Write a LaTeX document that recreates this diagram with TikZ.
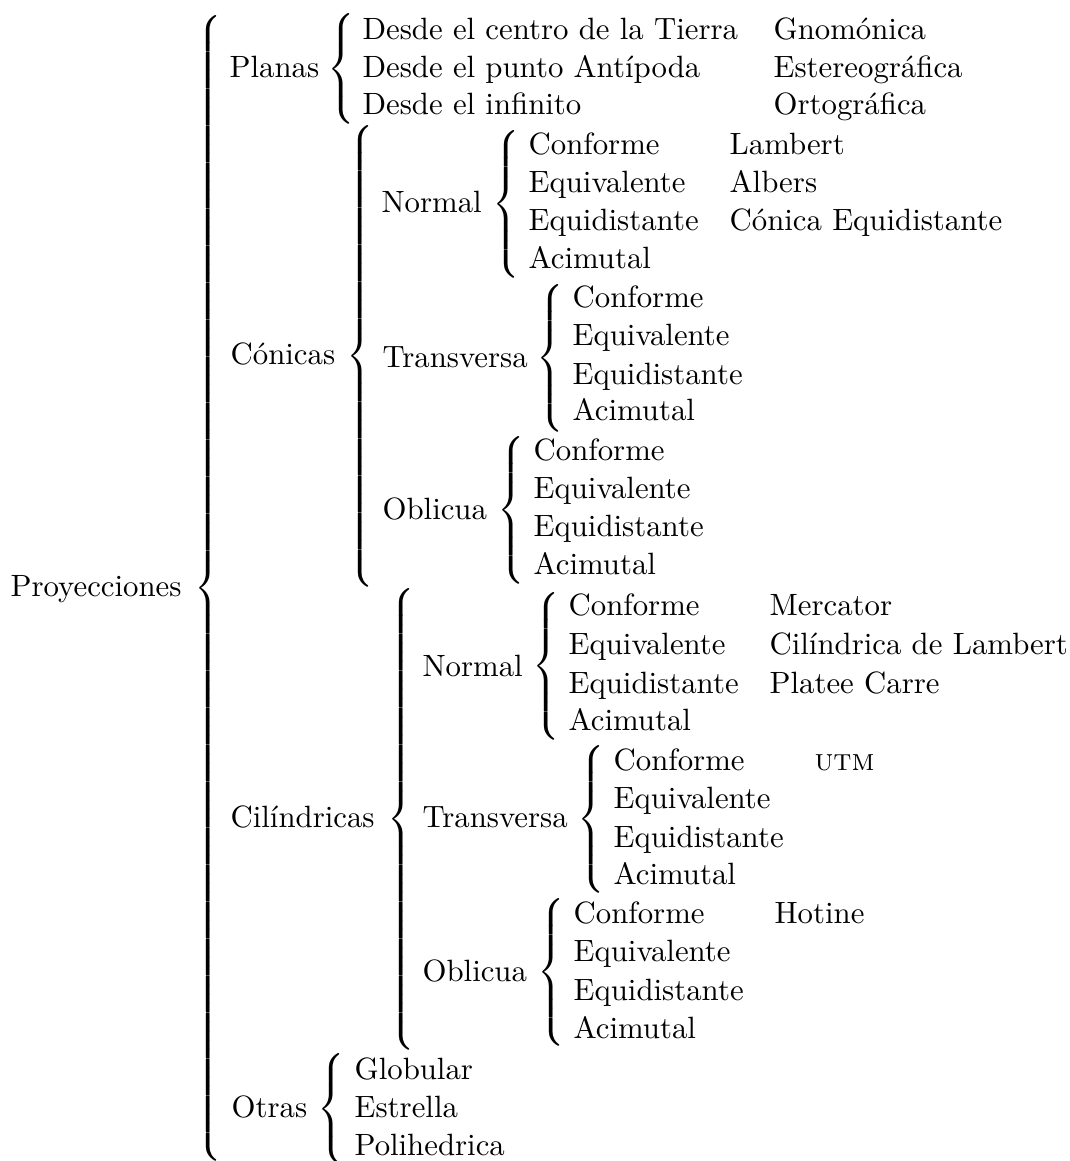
\documentclass[tikz,border=0pt]{standalone}
\delimitershortfall=0pt
\delimiterfactor=1000
\newcommand{\llave}[1]{$\left\{\vcenter{\hrule height #1 width 0pt}\right.$}
\tikzset{
  txt/.style={anchor=base west, inner sep=0pt},
  llv/.style={anchor=west, inner sep=0pt},
}
\begin{document}
\begin{tikzpicture}[x=0.3247pt, y=-0.3247pt]
            \useasboundingbox (0, 0) rectangle (1070, 1161);
            \node[txt] (proy) at (10, 596) {Proyecciones};
            \node[llv] (b-proy) at (194, 588) {\llave{369pt}};
            % planas
            \node[txt] (planas) at (229, 77) {Planas};
            \node[llv] (b-planas) at (327, 69) {\llave{35pt}};
            \node[txt] (p1) at (362, 39) {Desde el centro de la Tierra};
            \node[txt] (p2) at (362, 77) {Desde el punto Antípoda};
            \node[txt] (p3) at (362, 114) {Desde el infinito};
            \node[txt] (pr1) at (773, 39) {Gnomónica};
            \node[txt] (pr2) at (773, 77) {Estereográfica};
            \node[txt] (pr3) at (773, 114) {Ortográfica};
            % conicas
            \node[txt] (conicas) at (230, 364) {Cónicas};
            \node[llv] (b-conicas) at (346, 356) {\llave{149pt}};
            \node[txt] (cn) at (381, 212) {Normal};
            \node[llv] (b-cn) at (492, 204) {\llave{47pt}};
            \node[txt] (cn1) at (528, 154) {Conforme};
            \node[txt] (cn2) at (528, 192) {Equivalente};
            \node[txt] (cn3) at (528, 230) {Equidistante};
            \node[txt] (cn4) at (528, 268) {Acimutal};
            \node[txt] (cnr1) at (729, 154) {Lambert};
            \node[txt] (cnr2) at (729, 192) {Albers};
            \node[txt] (cnr3) at (729, 230) {Cónica Equidistante};
            \node[txt] (ct) at (382, 367) {Transversa};
            \node[llv] (b-ct) at (536, 358) {\llave{47pt}};
            \node[txt] (ct1) at (572, 307) {Conforme};
            \node[txt] (ct2) at (572, 345) {Equivalente};
            \node[txt] (ct3) at (572, 384) {Equidistante};
            \node[txt] (ct4) at (572, 420) {Acimutal};
            \node[txt] (co) at (382, 519) {Oblicua};
            \node[llv] (b-co) at (497, 510) {\llave{47pt}};
            \node[txt] (co1) at (533, 460) {Conforme};
            \node[txt] (co2) at (533, 498) {Equivalente};
            \node[txt] (co3) at (533, 536) {Equidistante};
            \node[txt] (co4) at (533, 574) {Acimutal};
            % cilindricas
            \node[txt] (cilind) at (230, 827) {Cilíndricas};
            \node[llv] (b-cilind) at (387, 819) {\llave{149pt}};
            \node[txt] (yn) at (422, 676) {Normal};
            \node[llv] (b-yn) at (532, 666) {\llave{47pt}};
            \node[txt] (yn1) at (568, 615) {Conforme};
            \node[txt] (yn2) at (568, 654) {Equivalente};
            \node[txt] (yn3) at (568, 693) {Equidistante};
            \node[txt] (yn4) at (568, 730) {Acimutal};
            \node[txt] (ynr1) at (769, 615) {Mercator};
            \node[txt] (ynr2) at (769, 654) {Cilíndrica de Lambert};
            \node[txt] (ynr3) at (769, 693) {Platee Carre};
            \node[txt] (yt) at (422, 827) {Transversa};
            \node[llv] (b-yt) at (577, 819) {\llave{47pt}};
            \node[txt] (yt1) at (613, 770) {Conforme};
            \node[txt] (yt2) at (613, 808) {Equivalente};
            \node[txt] (yt3) at (613, 847) {Equidistante};
            \node[txt] (yt4) at (613, 884) {Acimutal};
            \node[txt] (ytr1) at (814, 770) {\textsc{utm}};
            \node[txt] (yo) at (422, 981) {Oblicua};
            \node[llv] (b-yo) at (537, 972) {\llave{47pt}};
            \node[txt] (yo1) at (573, 923) {Conforme};
            \node[txt] (yo2) at (573, 961) {Equivalente};
            \node[txt] (yo3) at (573, 1000) {Equidistante};
            \node[txt] (yo4) at (573, 1038) {Acimutal};
            \node[txt] (yor1) at (774, 923) {Hotine};
            % otras
            \node[txt] (otras) at (231, 1117) {Otras};
            \node[llv] (b-otras) at (317, 1109) {\llave{35pt}};
            \node[txt] (o1) at (354, 1079) {Globular};
            \node[txt] (o2) at (354, 1117) {Estrella};
            \node[txt] (o3) at (354, 1155) {Polihedrica};
        \end{tikzpicture}
\end{document}
